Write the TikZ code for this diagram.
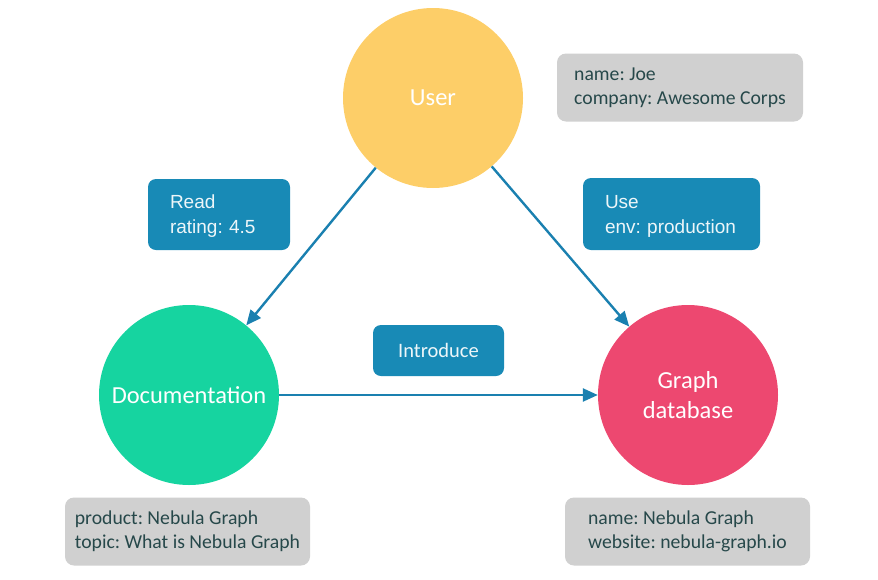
\documentclass[tikz,border=0pt]{standalone}
\usepackage{fontspec}
\setmainfont{Carlito}
\newfontfamily\arialfont{Liberation Sans}
\usetikzlibrary{arrows.meta,positioning}
\definecolor{useryellow}{RGB}{253,206,104}
\definecolor{docgreen}{RGB}{22,212,160}
\definecolor{gdbpink}{RGB}{237,72,112}
\definecolor{edgeblue}{RGB}{26,128,176}
\definecolor{lblblue}{RGB}{24,138,182}
\definecolor{propgray}{RGB}{208,208,208}
\definecolor{proptext}{RGB}{38,72,74}
\frenchspacing

\begin{document}
\begin{tikzpicture}[x=1pt,y=-1pt]
  % Styles for vertices, edge labels and property boxes
  \tikzset{vertex/.style={circle, minimum size=180pt, inner sep=0pt, text=white, align=center, font=\fontsize{24.5}{30}\selectfont}}
  \tikzset{edgelbl/.style={fill=lblblue, rounded corners=8pt, text=white!92!lblblue, align=left, inner sep=0pt}}
  \tikzset{propbox/.style={fill=propgray, rounded corners=9pt, text=proptext, align=left, inner ysep=0pt, minimum height=68pt, font=\fontsize{19.7}{24}\selectfont}}
  \tikzset{link/.style={draw=edgeblue, line width=2.4pt, -{Triangle[length=15pt,width=13pt]}}}

  \useasboundingbox (0,0) rectangle (878,579);

  % Vertices
  \node[vertex, fill=useryellow] (user) at (433,98) {User};
  \node[vertex, fill=docgreen] (doc) at (189,395) {Documentation};
  \node[vertex, fill=gdbpink] (gdb) at (688,395) {Graph\\database};

  % Edges
  \draw[link] (user) -- (doc);
  \draw[link] (user) -- (gdb);
  \draw[link] (doc.east) -- (gdb.west);

  % Edge labels
  \node[edgelbl, minimum width=142pt, minimum height=71pt, text width=98pt, inner xsep=22pt, font=\arialfont\fontsize{19}{25}\selectfont] (readlbl) at (219,214.5) {\rule{0pt}{17pt}Read\\rating: 4.5};
  \node[edgelbl, minimum width=177pt, minimum height=72pt, text width=133pt, inner xsep=22pt, font=\arialfont\fontsize{19}{25}\selectfont] (uselbl) at (671.5,214) {\rule{0pt}{17pt}Use\\env: production};
  \node[edgelbl, minimum width=131pt, minimum height=51pt, align=center, font=\fontsize{20.5}{24}\selectfont] (introlbl) at (438.5,350.5) {Introduce};

  % Properties
  \node[propbox, minimum width=246pt] (userprops) at (680,87.5) {name: Joe\\company: Awesome Corps};
  \node[propbox, minimum width=245pt] (docprops) at (187.5,531.5) {product: Nebula Graph\\topic: What is Nebula Graph};
  \node[propbox, minimum width=245pt] (gdbprops) at (687.5,531.5) {name: Nebula Graph\\website: nebula-graph.io};
\end{tikzpicture}
\end{document}
